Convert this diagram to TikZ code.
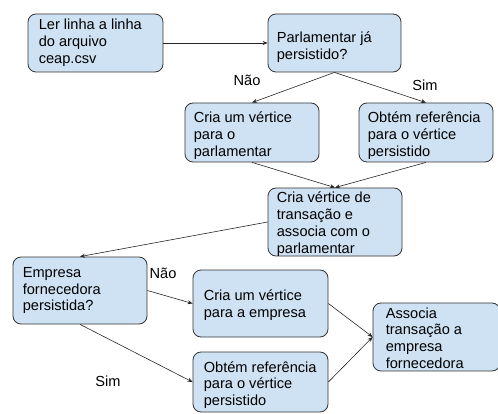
\documentclass[tikz,border=0pt]{standalone}
\usepackage{fontspec}
\setmainfont{Liberation Sans}
\usetikzlibrary{arrows.meta}
\definecolor{boxfill}{HTML}{CFE2F3}
\definecolor{boxline}{HTML}{333333}
\begin{document}
\begin{tikzpicture}[x=1pt,y=-1pt,
  box/.style={draw=boxline, line width=0.8pt, fill=boxfill, rounded corners=8pt, inner sep=0pt},
  txt/.style={inner sep=0pt, align=left, anchor=west, font=\fontsize{14.6pt}{16.8pt}\selectfont},
  lbl/.style={inner sep=0pt, font=\fontsize{14.6pt}{16.8pt}\selectfont},
  arr/.style={draw=black!85, line width=0.6pt, -{Stealth[length=5pt,width=4pt]}}]
\useasboundingbox (0,0) rectangle (498,414);
% boxes
\node[box, minimum width=135pt, minimum height=58pt] (A) at (95.5,43) {};
\node[box, minimum width=133pt, minimum height=58pt] (B) at (334.5,43) {};
\node[box, minimum width=134pt, minimum height=59pt] (C) at (252,132.5) {};
\node[box, minimum width=134pt, minimum height=59pt] (D) at (426,132.5) {};
\node[box, minimum width=134pt, minimum height=68pt] (E) at (335,222) {};
\node[box, minimum width=134pt, minimum height=67pt] (F) at (80,290.5) {};
\node[box, minimum width=135pt, minimum height=67pt] (G) at (260.5,303.5) {};
\node[box, minimum width=135pt, minimum height=60pt] (H) at (260.5,382) {};
\node[box, minimum width=127pt, minimum height=68pt] (I) at (436.5,337) {};
% texts
\node[txt] (At) at ([xshift=11pt]A.west) {Ler linha a linha\\do arquivo\\ceap.csv};
\node[txt] (Bt) at ([xshift=9pt,yshift=-4pt]B.west) {Parlamentar já\\persistido?};
\node[txt] (Ct) at ([xshift=9pt,yshift=-3pt]C.west) {Cria um vértice\\para o\\parlamentar};
\node[txt] (Dt) at ([xshift=9pt,yshift=-3pt]D.west) {Obtém referência\\para o vértice\\persistido};
\node[txt] (Et) at ([xshift=9pt,yshift=-2pt]E.west) {Cria vértice de\\transação e\\associa com o\\parlamentar};
\node[txt] (Ft) at ([xshift=10pt]F.west) {Empresa\\fornecedora\\persistida?};
\node[txt] (Gt) at ([xshift=11pt,yshift=-1.5pt]G.west) {Cria um vértice\\para a empresa};
\node[txt] (Ht) at ([xshift=11pt,yshift=-3pt]H.west) {Obtém referência\\para o vértice\\persistido};
\node[txt] (It) at ([xshift=13pt,yshift=-1pt]I.west) {Associa\\transação a\\empresa\\fornecedora};
% connectors
\draw[arr] (A.east) -- (B.west);
\draw[arr] (B.south) -- (C.north);
\draw[arr] (B.south) -- (D.north);
\draw[arr] (C.south) -- (E.north);
\draw[arr] (D.south) -- (E.north);
\draw[arr] (E.west) -- (F.north);
\draw[arr] (F.east) -- (G.west);
\draw[arr] (F.south) -- (H.west);
\draw[arr] (G.east) -- (I.west);
\draw[arr] (H.east) -- (I.west);
% labels
\node[lbl] (L1) at (247,80) {Não};
\node[lbl] (L2) at (425,85) {Sim};
\node[lbl] (L3) at (163,273) {Não};
\node[lbl] (L4) at (108,381) {Sim};
\end{tikzpicture}
\end{document}
